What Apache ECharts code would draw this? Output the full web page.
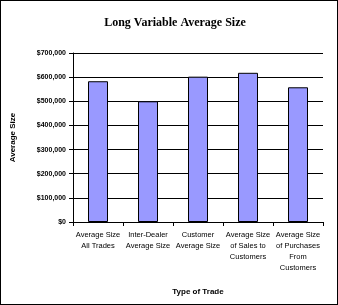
<!DOCTYPE html>
<html><head><meta charset="utf-8">
<script src="https://cdn.jsdelivr.net/npm/echarts@6/dist/echarts.min.js"></script>
<style>html,body{margin:0;padding:0;background:#fff}#c{width:338px;height:305px;box-sizing:border-box;border:1px solid #000}</style>
</head><body><div id="c"></div>
<script>
const categories = ["Average Size\nAll Trades","Inter-Dealer\nAverage Size","Customer\nAverage Size","Average Size\nof Sales to\nCustomers","Average Size\nof Purchases\nFrom\nCustomers"];
const values = [583000, 500000, 602000, 618000, 558000];
const chart = echarts.init(document.getElementById('c'), null, {renderer:'canvas'});
const fmt = v => '$' + v.toLocaleString('en-US');
chart.setOption({
  animation:false,
  title:{text:'Long Variable Average Size',left:169,top:11,textAlign:'center',
    textStyle:{fontFamily:'Liberation Serif',fontWeight:'bold',fontSize:12,color:'#000'}},
  grid:{left:70,right:14,top:52,bottom:82,containLabel:false},
  xAxis:{type:'category',data:categories,name:'Type of Trade',nameLocation:'middle',nameGap:66,
    nameTextStyle:{fontFamily:'Liberation Sans',fontWeight:'bold',fontSize:8,color:'#000'},
    axisLine:{lineStyle:{color:'#000',width:1}},
    axisTick:{show:true,length:4,lineStyle:{color:'#000'}},
    axisLabel:{interval:0,fontFamily:'Liberation Sans',fontSize:7.5,color:'#000',lineHeight:11,margin:7}},
  yAxis:{type:'value',min:0,max:700000,interval:100000,name:'Average Size',nameLocation:'middle',nameGap:56,
    nameTextStyle:{fontFamily:'Liberation Sans',fontWeight:'bold',fontSize:8,color:'#000'},
    axisLine:{show:true,lineStyle:{color:'#000',width:1}},
    axisTick:{show:true,length:4,lineStyle:{color:'#000'}},
    splitLine:{show:true,lineStyle:{color:'#000',width:1}},
    axisLabel:{formatter:fmt,fontFamily:'Liberation Sans',fontWeight:'bold',fontSize:7,color:'#000',margin:7}},
  series:[{type:'bar',data:values,barWidth:20,
    itemStyle:{color:'#9999ff',borderColor:'#000',borderWidth:1}}]
});
</script></body></html>
